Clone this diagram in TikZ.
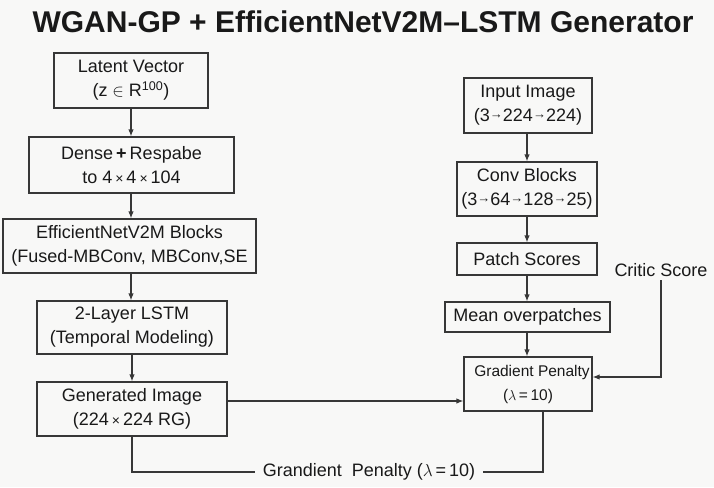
\documentclass[tikz,border=0pt]{standalone}
\usepackage{fontspec}
\setmainfont{Liberation Sans}
\usetikzlibrary{arrows.meta}

\definecolor{canvas}{RGB}{248,248,247}
\definecolor{ink}{RGB}{55,55,55}
\definecolor{txt}{RGB}{25,25,25}

\newcommand{\tms}{\,{\fontsize{14}{14}\selectfont ×}\,}
\newcommand{\rar}{\raisebox{3pt}{\fontsize{13}{13}\selectfont →}}

\begin{document}
\begin{tikzpicture}[
  x=1pt,
  y=-1pt,
  font=\fontsize{18}{24}\selectfont,
  line/.style={draw=ink,line width=1.2pt},
  arrow/.style={line,-{Latex[length=7pt,width=5.5pt]}},
  block/.style={line,align=center,inner sep=2pt,text=txt},
  label/.style={text=txt}
]

% Canvas
\fill[canvas] (0,0) rectangle (714,487);
\useasboundingbox (0,0) rectangle (714,487);

% Title
\node[font=\fontsize{30}{34}\selectfont\bfseries,label] (title) at (363,22)
  {WGAN-GP + EfficientNetV2M–LSTM Generator};

% Generator column
\node[block,minimum width=154pt,minimum height=55pt] (latent) at (131,80.5)
  {Latent Vector\\(\(\mathrm{z}\in\mathrm{R}\)\textsuperscript{100})};
\node[block,minimum width=205pt,minimum height=56pt] (dense) at (131.5,165)
  {Dense\,\textbf{+}\,Respabe\\to 4\tms4\tms104};
\node[block,minimum width=253pt,minimum height=54pt] (effnet) at (129.5,246)
  {EfficientNetV2M Blocks\\(Fused-MBConv, MBConv,SE};
\node[block,minimum width=190pt,minimum height=53pt] (lstm) at (132,327.5)
  {2-Layer LSTM\\(Temporal Modeling)};
\node[block,minimum width=190pt,minimum height=54pt] (genimg) at (132,409)
  {Generated Image\\(224\tms224 RG)};

\draw[arrow] (latent.south) -- (latent.south |- dense.north);
\draw[arrow] (latent.south |- dense.south) -- (latent.south |- effnet.north);
\draw[arrow] (latent.south |- effnet.south) -- (latent.south |- lstm.north);
\draw[arrow] (lstm.south) -- (genimg.north);

% Critic column
\node[block,minimum width=128pt,minimum height=55pt] (inimg) at (528,105.5)
  {Input Image\\(3\rar224\rar224)};
\node[block,minimum width=140pt,minimum height=54pt] (conv) at (527,189)
  {Conv Blocks\\(3\rar64\rar128\rar25)};
\node[block,minimum width=140pt,minimum height=32pt] (patch) at (527,259)
  {Patch Scores};
\node[block,minimum width=165pt,minimum height=30pt] (meanp) at (527.5,317)
  {Mean overpatches};
\node[block,minimum width=128pt,minimum height=54pt,
  font=\fontsize{15.5}{24}\selectfont] (gp) at (528,384)
  {\hspace*{8pt}Gradient Penalty\\(\(\lambda\)\,=\,10)};

\draw[arrow] (inimg.south -| conv.south) -- (conv.north);
\draw[arrow] (conv.south) -- (patch.north);
\draw[arrow] (patch.south) -- (patch.south |- meanp.north);
\draw[arrow] (patch.south |- meanp.south) -- (patch.south |- gp.north);

% Critic score feed
\node[label] (critic) at (661,270) {Critic Score};
\draw[arrow] (critic.south) |- ([yshift=7pt]gp.east);

% Generated image into penalty
\draw[arrow] ([yshift=8pt]genimg.east) -- ([yshift=8pt]genimg.east -| gp.west);

% Penalty loop along the bottom
\node[label,inner sep=8pt] (gplabel) at (369,472)
  {Grandient\ \ Penalty (\(\lambda\)\,=\,10)};
\draw[line] (genimg.south) |- (gplabel.west);
\draw[line] ([xshift=15pt]gp.south) |- (gplabel.east);

\end{tikzpicture}
\end{document}
